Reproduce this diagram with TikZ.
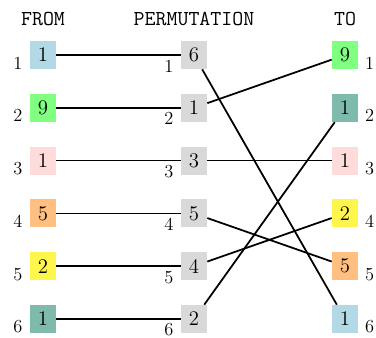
\documentclass[tikz,border=0pt]{standalone}
\usepackage{fontspec}
\definecolor{cblue}{HTML}{B3D9E6}
\definecolor{cgreen}{HTML}{80FF80}
\definecolor{cpink}{HTML}{FFDCDC}
\definecolor{corange}{HTML}{FFBF80}
\definecolor{cyellow}{HTML}{FFF64D}
\definecolor{cteal}{HTML}{7FBBAD}
\definecolor{cgray}{HTML}{D9D9D9}
\begin{document}
\begin{tikzpicture}[x=0.625pt,y=-0.625pt,
  cell/.style={minimum width=16.25pt,minimum height=17.5pt,inner sep=0pt,font=\fontsize{13}{15}\selectfont},
  idx/.style={inner sep=0pt,font=\fontsize{11.5}{13}\selectfont},
  hdr/.style={inner sep=0pt,font=\fontsize{13.3}{16}\selectfont\ttfamily},
  wire/.style={draw=black,line width=1.1pt}]
\useasboundingbox (0,0) rectangle (376,337);
\node[hdr] (hf) at (43,18.5) {FROM};
\node[hdr] (hp) at (194,18.5) {PERMUTATION};
\node[hdr] (ht) at (345,18.5) {TO};
% FROM column
\node[cell,fill=cblue]   (f1) at (43,55)    {1};
\node[cell,fill=cgreen]  (f2) at (43,107.8) {9};
\node[cell,fill=cpink]   (f3) at (43,160.6) {1};
\node[cell,fill=corange] (f4) at (43,213.4) {5};
\node[cell,fill=cyellow] (f5) at (43,266.2) {2};
\node[cell,fill=cteal]   (f6) at (43,319)   {1};
% PERMUTATION column
\node[cell,fill=cgray] (p1) at (194,55)    {6};
\node[cell,fill=cgray] (p2) at (194,107.8) {1};
\node[cell,fill=cgray] (p3) at (194,160.6) {3};
\node[cell,fill=cgray] (p4) at (194,213.4) {5};
\node[cell,fill=cgray] (p5) at (194,266.2) {4};
\node[cell,fill=cgray] (p6) at (194,319)   {2};
% TO column
\node[cell,fill=cgreen]  (t1) at (345,55)    {9};
\node[cell,fill=cteal]   (t2) at (345,107.8) {1};
\node[cell,fill=cpink]   (t3) at (345,160.6) {1};
\node[cell,fill=cyellow] (t4) at (345,213.4) {2};
\node[cell,fill=corange] (t5) at (345,266.2) {5};
\node[cell,fill=cblue]   (t6) at (345,319)   {1};
% index labels
\foreach \i/\y in {1/55,2/107.8,3/160.6,4/213.4,5/266.2,6/319}{
  \node[idx] (fl\i) at (18,\y+8) {\i};
  \node[idx] (pl\i) at (169,\y+11) {\i};
  \node[idx] (tl\i) at (369.5,\y+8) {\i};
}
% wires
\foreach \i in {1,...,6}{ \draw[wire] (f\i) -- (p\i); }
\draw[wire] (p1) -- (t6);
\draw[wire] (p2) -- (t1);
\draw[wire] (p3) -- (t3);
\draw[wire] (p4) -- (t5);
\draw[wire] (p5) -- (t4);
\draw[wire] (p6) -- (t2);
\end{tikzpicture}
\end{document}
